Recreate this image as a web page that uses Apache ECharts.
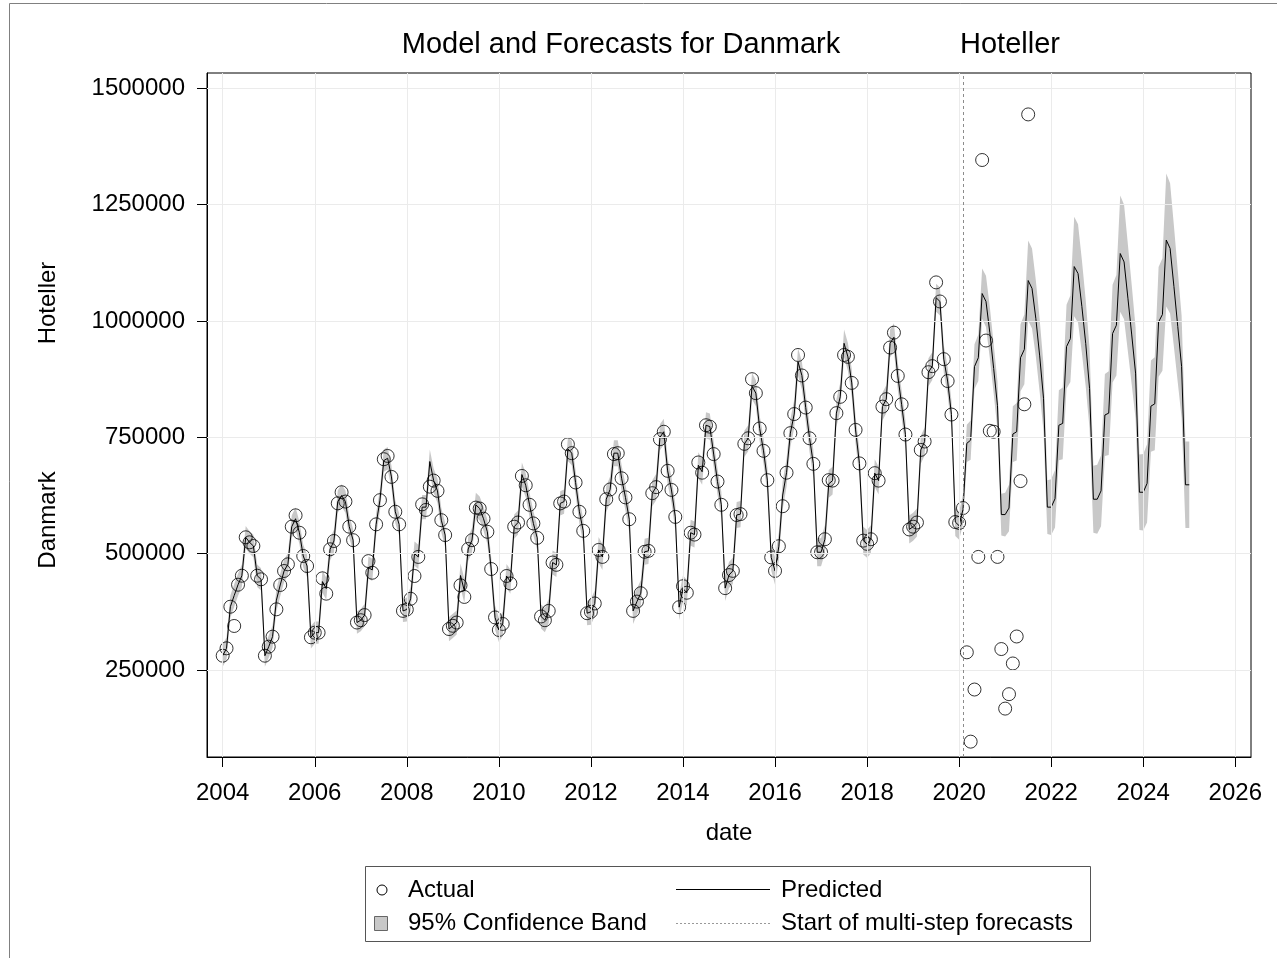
<!DOCTYPE html>
<html>
<head>
<meta charset="utf-8">
<script src="https://cdn.jsdelivr.net/npm/echarts@6/dist/echarts.min.js"></script>
<style>
  html, body { margin: 0; padding: 0; background: #ffffff; }
  #chart { width: 1277px; height: 958px; }
</style>
</head>
<body>
<div id="chart"></div>
<script>
// Monthly series, first month = January 2004
const startYear = 2004;
const forecastStart = 2020 + 1 / 12; // February 2020: first multi-step forecast

const xTicks = [2004, 2006, 2008, 2010, 2012, 2014, 2016, 2018, 2020, 2022, 2024, 2026];
const yTicks = [250000, 500000, 750000, 1000000, 1250000, 1500000];

// Observed overnight stays (Jan 2004 - Jul 2021)
const actual = [
  280700, 296600, 386000, 344600, 433300, 452600, 535200, 524400, 516500, 452600, 444900, 280700,
  300100, 321600, 380400, 432700, 462800, 477100, 558000, 582400, 545000, 495000, 473500, 320300,
  330200, 330200, 447000, 414000, 509400, 527200, 608200, 632000, 612000, 558000, 529000, 352000,
  357000, 368000, 484000, 459000, 563000, 615000, 703000, 710000, 665000, 590000, 563000, 377000,
  380000, 403000, 452000, 493000, 606000, 594000, 644000, 657000, 635000, 572000, 540000, 338000,
  345000, 352000, 432000, 407000, 510000, 529000, 599000, 597000, 575000, 547000, 467000, 363000,
  336000, 349000, 452000, 436000, 558000, 567000, 667000, 647000, 605000, 565000, 534000, 365000,
  357000, 377000, 481000, 476000, 608000, 612000, 735000, 716000, 653000, 590000, 549000, 372000,
  375000, 393000, 508000, 493000, 617000, 638000, 714000, 716000, 662000, 621000, 574000, 377000,
  397000, 415000, 504000, 506000, 630000, 643000, 746000, 762000, 678000, 637000, 579000, 385000,
  430000, 416000, 545000, 541000, 696000, 674000, 776000, 773000, 714000, 655000, 605000, 426000,
  454000, 463000, 583000, 585000, 736000, 748000, 875000, 845000, 769000, 721000, 658000, 492000,
  463000, 516000, 602000, 674000, 759000, 800000, 927000, 883000, 814000, 748000, 693000, 503000,
  503000, 531000, 658000, 657000, 802000, 837000, 927000, 923000, 867000, 766000, 694000, 528000,
  521000, 531000, 673000, 657000, 816000, 832000, 943000, 975000, 882000, 821000, 756000, 552000,
  558000, 567000, 723000, 741000, 890000, 903000, 1083000, 1042000, 918000, 871000, 799000, 568000,
  566000, 598000, 288000, 96000, 208000, 493000, 1346000, 958000, 764000, 762000, 493000, 295000,
  167000, 198000, 264000, 322000, 656000, 821000, 1444000
];

// Model values: one-step fit Jan 2004 - Jan 2020, multi-step forecasts Feb 2020 - Jan 2025
const predicted = [
  280700, 296600, 386000, 410000, 433300, 452600, 535200, 524400, 516500, 452600, 444900, 280700,
  300100, 321600, 400000, 432700, 462800, 477100, 558000, 575000, 545000, 495000, 473500, 320300,
  330200, 330200, 440000, 425000, 509400, 527200, 612000, 625000, 612000, 558000, 529000, 352000,
  357000, 368000, 470000, 465000, 563000, 615000, 700000, 705000, 665000, 590000, 563000, 377000,
  380000, 403000, 500000, 493000, 600000, 600000, 698000, 657000, 635000, 572000, 540000, 338000,
  345000, 352000, 453000, 420000, 510000, 529000, 605000, 597000, 575000, 547000, 467000, 363000,
  336000, 349000, 452000, 440000, 558000, 567000, 670000, 647000, 605000, 565000, 534000, 365000,
  357000, 377000, 481000, 476000, 608000, 612000, 725000, 716000, 653000, 590000, 549000, 372000,
  375000, 393000, 508000, 493000, 617000, 638000, 716000, 716000, 662000, 621000, 574000, 377000,
  397000, 415000, 504000, 506000, 630000, 643000, 750000, 762000, 678000, 637000, 579000, 385000,
  425000, 416000, 545000, 541000, 690000, 676000, 776000, 773000, 714000, 655000, 605000, 426000,
  454000, 463000, 583000, 585000, 736000, 748000, 860000, 845000, 769000, 721000, 658000, 492000,
  463000, 516000, 626000, 674000, 759000, 800000, 912000, 883000, 814000, 748000, 693000, 503000,
  503000, 531000, 650000, 657000, 802000, 837000, 952000, 923000, 867000, 766000, 694000, 528000,
  521000, 531000, 673000, 657000, 816000, 832000, 952000, 965000, 882000, 821000, 756000, 552000,
  558000, 567000, 723000, 741000, 890000, 903000, 1050000, 1042000, 918000, 871000, 799000, 568000,
  560000, 595000, 737000, 744000, 902000, 921000, 1059000, 1042000, 975000, 898000, 818000, 584000,
  584000, 598000, 757000, 762000, 921000, 939000, 1087000, 1070000, 1005000, 925000, 834000, 600000,
  600000, 618000, 776000, 780000, 945000, 962000, 1117000, 1102000, 1031000, 952000, 855000, 617000,
  617000, 635000, 798000, 802000, 973000, 991000, 1145000, 1127000, 1049000, 970000, 888000, 632000,
  632000, 651000, 817000, 822000, 998000, 1014000, 1174000, 1156000, 1074000, 988000, 902000, 648000,
  648000
];

// Half width of the 95% confidence band around each model value
const bandHalfWidth = [
  24000, 24000, 24000, 24000, 24000, 24000, 24000, 24000, 24000, 24000, 24000, 24000,
  24000, 24000, 24000, 24000, 24000, 24000, 24000, 24000, 24000, 24000, 24000, 24000,
  24000, 24000, 24000, 24000, 24000, 24000, 24000, 24000, 24000, 24000, 24000, 24000,
  24000, 24000, 24000, 24000, 24000, 24000, 24000, 24000, 24000, 24000, 24000, 24000,
  26000, 26000, 26000, 26000, 26000, 26000, 26000, 26000, 26000, 26000, 26000, 26000,
  26000, 26000, 26000, 26000, 26000, 26000, 26000, 26000, 26000, 26000, 26000, 26000,
  26000, 26000, 26000, 26000, 26000, 26000, 26000, 26000, 26000, 26000, 26000, 26000,
  26000, 26000, 26000, 26000, 26000, 26000, 26000, 26000, 26000, 26000, 26000, 26000,
  28000, 28000, 28000, 28000, 28000, 28000, 28000, 28000, 28000, 28000, 28000, 28000,
  28000, 28000, 28000, 28000, 28000, 28000, 28000, 28000, 28000, 28000, 28000, 28000,
  28000, 28000, 28000, 28000, 28000, 28000, 28000, 28000, 28000, 28000, 28000, 28000,
  28000, 28000, 28000, 28000, 28000, 28000, 28000, 28000, 28000, 28000, 28000, 28000,
  30000, 30000, 30000, 30000, 30000, 30000, 30000, 30000, 30000, 30000, 30000, 30000,
  30000, 30000, 30000, 30000, 30000, 30000, 30000, 30000, 30000, 30000, 30000, 30000,
  30000, 30000, 30000, 30000, 30000, 30000, 30000, 30000, 30000, 30000, 30000, 30000,
  30000, 30000, 30000, 30000, 30000, 30000, 30000, 30000, 30000, 30000, 30000, 30000,
  30000, 32000, 40000, 42000, 48000, 50000, 54000, 55000, 55000, 53000, 52000, 45000,
  47000, 50000, 60000, 62000, 72000, 75000, 86000, 86000, 82000, 78000, 72000, 58000,
  60000, 62000, 75000, 77000, 90000, 93000, 107000, 106000, 100000, 93000, 86000, 72000,
  74000, 76000, 88000, 90000, 105000, 108000, 125000, 123000, 115000, 107000, 98000, 81000,
  82000, 84000, 98000, 100000, 118000, 121000, 143000, 140000, 130000, 120000, 110000, 93000,
  93000
];

const FONT = '"Liberation Sans", Arial, Helvetica, sans-serif';
const monthX = i => startYear + i / 12;

const actualPts = actual.map((v, i) => [monthX(i), v]);
const predictedPts = predicted.map((v, i) => [monthX(i), v]);
// [date, lower, upper] rows for the confidence band
const bandRows = predicted.map((v, i) => [monthX(i), v - bandHalfWidth[i], v + bandHalfWidth[i]]);

const gridLines = yTicks.map(v => ({ yAxis: v })).concat(xTicks.map(v => ({ xAxis: v })));

// The band is one closed polygon: upper edge left to right, then lower edge back.
function renderBand(params, api) {
  if (params.dataIndex !== 0) return null;
  const upper = bandRows.map(r => api.coord([r[0], r[2]]));
  const lower = bandRows.map(r => api.coord([r[0], r[1]])).reverse();
  return {
    type: 'polygon',
    shape: { points: upper.concat(lower) },
    style: { fill: '#c8c8c8', stroke: null },
    silent: true
  };
}

const chart = echarts.init(document.getElementById('chart'), null, { renderer: 'canvas' });

const textEl = (x, y, text, size, opts) => Object.assign({
  type: 'text', x: x, y: y, silent: true,
  style: Object.assign({ text: text, font: size + 'px ' + FONT, fill: '#000',
    align: 'center', verticalAlign: 'middle' }, (opts && opts.style) || {})
}, (opts && opts.el) || {});

chart.setOption({
  animation: false,
  backgroundColor: '#ffffff',
  grid: {
    left: 207, top: 73, right: 26, bottom: 201,
    show: true, borderColor: '#000', borderWidth: 1, backgroundColor: 'transparent',
    outerBoundsMode: 'none'
  },
  xAxis: {
    type: 'value', min: 2003.659, max: 2026.341,
    axisLine: { show: true, lineStyle: { color: '#000', width: 1 } },
    axisTick: { show: true, length: 10, lineStyle: { color: '#000', width: 1 }, customValues: xTicks },
    axisLabel: { customValues: xTicks, formatter: v => String(Math.round(v)),
      color: '#000', fontSize: 24, fontFamily: FONT, margin: 24 },
    splitLine: { show: false }
  },
  yAxis: {
    type: 'value', min: 63000, max: 1533000,
    axisLine: { show: true, lineStyle: { color: '#000', width: 1 } },
    axisTick: { show: true, length: 10, lineStyle: { color: '#000', width: 1 }, customValues: yTicks },
    axisLabel: { customValues: yTicks, formatter: v => String(v),
      color: '#000', fontSize: 24, fontFamily: FONT, margin: 22 },
    splitLine: { show: false }
  },
  series: [
    {
      name: 'Gridlines', type: 'line', data: [], z: 1, silent: true,
      markLine: {
        silent: true, symbol: ['none', 'none'], label: { show: false }, animation: false,
        lineStyle: { color: '#ebebeb', type: 'solid', width: 1 },
        data: gridLines
      }
    },
    {
      name: '95% Confidence Band', type: 'custom', data: bandRows, z: 2, silent: true,
      encode: { x: 0, y: [1, 2] },
      renderItem: renderBand
    },
    {
      name: 'Predicted', type: 'line', data: predictedPts, symbol: 'none',
      lineStyle: { color: '#000', width: 1 }, z: 3, silent: true
    },
    {
      name: 'Actual', type: 'scatter', data: actualPts, symbol: 'circle', symbolSize: 13,
      itemStyle: { color: 'rgba(0,0,0,0)', borderColor: '#000', borderWidth: 1 }, z: 4, silent: true,
      markLine: {
        silent: true, symbol: ['none', 'none'], label: { show: false }, animation: false,
        lineStyle: { color: '#8c8c8c', type: [3, 3], width: 1 },
        data: [{ xAxis: forecastStart }]
      }
    }
  ],
  graphic: [
    // outer frame
    { type: 'rect', silent: true, shape: { x: 9.5, y: 3.5, width: 1300, height: 1000 },
      style: { fill: 'none', stroke: '#808080', lineWidth: 1 } },
    // titles
    textEl(621, 45, 'Model and Forecasts for Danmark', 29),
    textEl(1010, 45, 'Hoteller', 29),
    // axis titles
    textEl(729, 833, 'date', 24),
    textEl(48, 303, 'Hoteller', 24, { el: { rotation: Math.PI / 2 } }),
    textEl(48, 520, 'Danmark', 24, { el: { rotation: Math.PI / 2 } }),
    // legend
    { type: 'rect', silent: true, shape: { x: 365.5, y: 866.5, width: 725, height: 75 },
      style: { fill: '#fff', stroke: '#555', lineWidth: 1 } },
    { type: 'circle', silent: true, shape: { cx: 382, cy: 890, r: 5 },
      style: { fill: 'none', stroke: '#000', lineWidth: 1 } },
    textEl(408, 890, 'Actual', 24, { style: { align: 'left' } }),
    { type: 'line', silent: true, shape: { x1: 676, y1: 889.5, x2: 770, y2: 889.5 },
      style: { stroke: '#000', lineWidth: 1 } },
    textEl(781, 890, 'Predicted', 24, { style: { align: 'left' } }),
    { type: 'rect', silent: true, shape: { x: 374.5, y: 916.5, width: 13, height: 14 },
      style: { fill: '#c8c8c8', stroke: '#666', lineWidth: 1 } },
    textEl(408, 923, '95% Confidence Band', 24, { style: { align: 'left' } }),
    { type: 'line', silent: true, shape: { x1: 676, y1: 923.5, x2: 770, y2: 923.5 },
      style: { stroke: '#999', lineWidth: 1, lineDash: [2, 2] } },
    textEl(781, 923, 'Start of multi-step forecasts', 24, { style: { align: 'left' } })
  ]
});
</script>
</body>
</html>
